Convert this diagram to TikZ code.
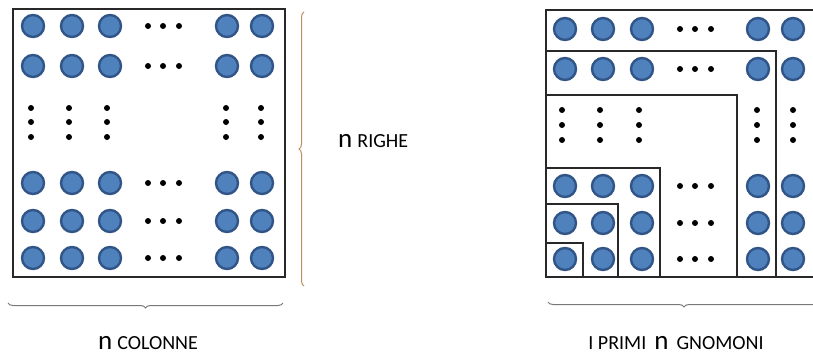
\documentclass[tikz,border=0pt]{standalone}
\usepackage{fontspec}
\setmainfont{Carlito}
\usetikzlibrary{decorations.pathreplacing}
\definecolor{beadfill}{RGB}{79,129,189}
\definecolor{beadedge}{RGB}{50,85,135}
\definecolor{framecol}{RGB}{40,40,40}
\definecolor{bracegray}{RGB}{120,120,120}
\definecolor{bracetan}{RGB}{190,140,95}
\tikzset{
  bead/.style={circle, draw=beadedge, fill=beadfill, line width=2.4pt, minimum size=22pt, inner sep=0pt},
  blackdot/.style={circle, fill=black, minimum size=6pt, inner sep=0pt},
  frame/.style={draw=framecol, line width=1.6pt},
  gnomon/.style={draw=framecol, line width=1.5pt},
  bracestyle/.style={decorate, decoration={brace, amplitude=5pt}, line width=1pt}
}
\newcommand{\bigN}{{\fontsize{27}{27}\selectfont n}}
\newcommand{\capw}[1]{{\fontsize{20}{20}\selectfont #1}}
\begin{document}
\begin{tikzpicture}[x=1pt,y=-1pt]
\useasboundingbox (0,0) rectangle (813,356);
\clip (0,0) rectangle (813,356);
\fill[white] (0,0) rectangle (813,356);

% ---------- left figure ----------
\draw[frame] (13,9) rectangle (285,277);
\foreach \yy [count=\r] in {26,66,183,221,258} {
  \foreach \xx [count=\c] in {33,72,110,227,262} {
    \node[bead] (L\r c\c) at (\xx,\yy) {};
  }
  \foreach \xx [count=\c] in {148,163,179} {
    \node[blackdot] (LH\r d\c) at (\xx,\yy) {};
  }
}
\foreach \xx [count=\c] in {31,69,107,226,261} {
  \foreach \yy [count=\r] in {108,122,137} {
    \node[blackdot] (LV\c d\r) at (\xx,\yy) {};
  }
}
% braces of the left figure
\coordinate (lb1) at (8,303);
\coordinate (lb2) at (283,303);
\draw[bracestyle, draw=bracegray, decoration={mirror}] (lb1) -- (lb2);
\coordinate (rb1) at (304,12);
\coordinate (rb2) at (304,286);
\draw[bracestyle, draw=bracetan, decoration={mirror}] (rb1) -- (rb2);
\node[anchor=base, inner sep=0pt] (colonne) at (148,349)
  {\bigN\hspace{5pt}\capw{COLONNE}};
\node[anchor=base west, inner sep=0pt] (righe) at (338,147)
  {\bigN\hspace{5pt}\capw{RIGHE}};

% ---------- right figure ----------
\draw[frame] (830,10) -- (546,10) -- (546,277) -- (830,277);
\draw[gnomon] (546,51) -- (776,51) -- (776,277);
\draw[gnomon] (546,95) -- (737,95) -- (737,277);
\draw[gnomon] (546,168) -- (660,168) -- (660,277);
\draw[gnomon] (546,204) -- (618,204) -- (618,277);
\draw[gnomon] (546,243) -- (583,243) -- (583,277);
\foreach \yy [count=\r] in {29,69,186,223,259} {
  \foreach \xx [count=\c] in {565,603,642,758,793} {
    \node[bead] (R\r c\c) at (\xx,\yy) {};
  }
  \foreach \xx [count=\c] in {680,695,711} {
    \node[blackdot] (RH\r d\c) at (\xx,\yy) {};
  }
}
\foreach \xx [count=\c] in {562,600,639,757,793} {
  \foreach \yy [count=\r] in {110,125,140} {
    \node[blackdot] (RV\c d\r) at (\xx,\yy) {};
  }
}
\coordinate (gb1) at (548,302);
\coordinate (gb2) at (820,302);
\draw[bracestyle, draw=bracegray, decoration={mirror}] (gb1) -- (gb2);
\node[anchor=base, inner sep=0pt] (gnomoni) at (676,349)
  {\capw{I PRIMI}\hspace{8pt}\bigN\hspace{8pt}\capw{GNOMONI}};
\end{tikzpicture}
\end{document}
